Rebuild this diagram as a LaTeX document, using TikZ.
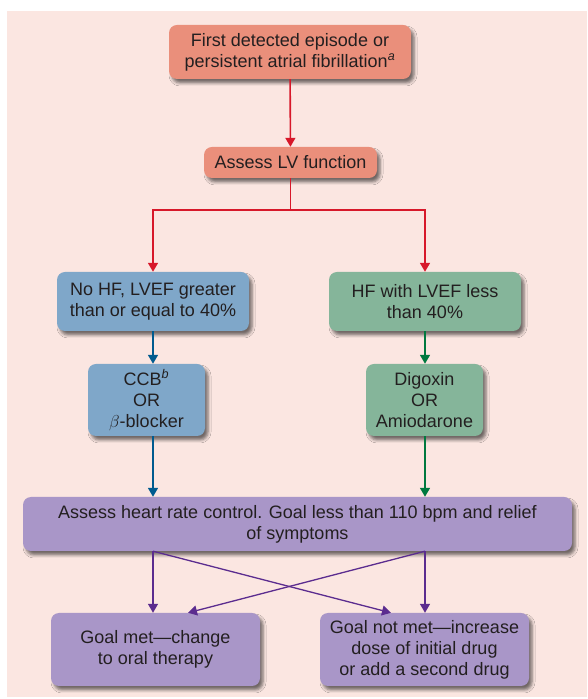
\documentclass[tikz,border=0pt]{standalone}
\usepackage{fontspec}
\setmainfont{Liberation Sans}
\usetikzlibrary{arrows.meta, shadows.blur}

\definecolor{bgpink}{HTML}{FBE6E1}
\definecolor{salmon}{HTML}{EA8F7B}
\definecolor{bluebox}{HTML}{7FA7C9}
\definecolor{greenbox}{HTML}{85B59A}
\definecolor{purplebox}{HTML}{A996C8}
\definecolor{redline}{HTML}{D7182A}
\definecolor{blueline}{HTML}{005B8F}
\definecolor{greenline}{HTML}{00793F}
\definecolor{purpleline}{HTML}{5B2C8F}
\definecolor{txt}{HTML}{231F20}

\begin{document}
\begin{tikzpicture}[x=1pt, y=1pt,
        box/.style = {rounded corners=8pt, align=center, text=txt, inner sep=0pt,
            font=\fontsize{18}{21}\selectfont,
            blur shadow={shadow xshift=3pt, shadow yshift=-4pt, shadow blur radius=3pt, shadow opacity=55}},
        arr/.style = {-{Triangle[width=10pt, length=9pt]}, line width=1.6pt}]
                \useasboundingbox (0, 0) rectangle (587, 699);
                \fill[bgpink] (7, 2) rectangle (587, 688);

                \node[box, fill=salmon, minimum width=242, minimum height=54] at (290, 647) (first)
                    {First detected episode or\\persistent atrial fibrillation\textsuperscript{\itshape a}};
                \node[box, fill=salmon, minimum width=173, minimum height=31] at (290.5, 536.5) (lv) {Assess LV function};
                \node[box, fill=bluebox, minimum width=192, minimum height=59] at (153, 397.5) (nohf)
                    {No HF, LVEF greater\\than or equal to 40\%};
                \node[box, fill=greenbox, minimum width=192, minimum height=59] at (425, 397.5) (hf)
                    {HF with LVEF less\\than 40\%};
                \node[box, fill=bluebox, minimum width=117, minimum height=72] at (146.5, 299) (ccb)
                    {CCB\textsuperscript{\itshape b}\\OR\\$\beta$-blocker};
                \node[box, fill=greenbox, minimum width=117, minimum height=72] at (424.5, 299) (dig)
                    {Digoxin\\OR\\Amiodarone};
                \node[box, fill=purplebox, minimum width=549, minimum height=54] at (297.5, 175) (hr)
                    {Assess heart rate control. Goal less than 110 bpm and relief\\of symptoms};
                \node[box, fill=purplebox, minimum width=209, minimum height=73] at (155.5, 49.5) (met)
                    {Goal met---change\\to oral therapy};
                \node[box, fill=purplebox, minimum width=209, minimum height=73] at (424.5, 49.5) (notmet)
                    {Goal not met---increase\\dose of initial drug\\or add a second drug};

                \draw[arr, redline] (first) -- (lv);
                \draw[redline, line width=1.6pt] (lv.south) -- ++(0, -32) coordinate (split);
                \draw[arr, redline] (split) -| (nohf.north);
                \draw[arr, redline] (split) -| (hf.north);

                \draw[arr, blueline] (nohf.south) -- (nohf.south |- ccb.north);
                \draw[arr, blueline] (nohf.south |- ccb.south) -- (nohf.south |- hr.north);
                \draw[arr, greenline] (hf.south) -- (hf.south |- dig.north);
                \draw[arr, greenline] (hf.south |- dig.south) -- (hf.south |- hr.north);

                \coordinate (hrl) at (hr.south -| nohf.south);
                \coordinate (hrr) at (hr.south -| hf.south);
                \draw[arr, purpleline, line width=1.3pt] (hrl) -- (hrl |- met.north);
                \draw[arr, purpleline, line width=1.3pt] (hrr) -- (hrr |- notmet.north);
                \draw[arr, purpleline, line width=1.3pt] (hrl) -- ([xshift=-33.5pt]notmet.north);
                \draw[arr, purpleline, line width=1.3pt] (hrr) -- ([xshift=32.5pt]met.north);
\end{tikzpicture}
\end{document}
